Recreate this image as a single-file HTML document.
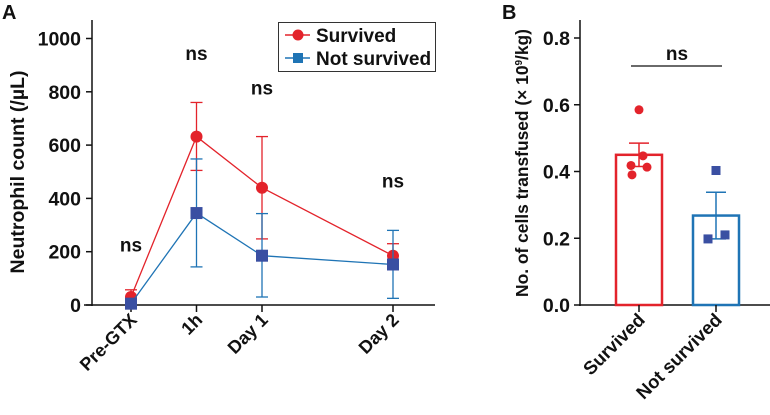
<!DOCTYPE html>
<html><head><meta charset="utf-8"><style>
body{margin:0;background:#fff}
svg text{font-family:"Liberation Sans",Arial,sans-serif;font-weight:bold;fill:#111}
</style></head><body>
<svg id="c" width="770" height="410" viewBox="0 0 770 410" xmlns="http://www.w3.org/2000/svg"></svg>
<script>
// Panel A data
const timepoints=["Pre-GTX","1h","Day 1","Day 2"];
const timeDays=[0,1,2,4];
const survMean=[30,632,440,185];
const survHi=[57,760,632,230];
const survLo=[5,505,248,140];
const notMean=[5,345,185,152];
const notHi=[20,548,343,280];
const notLo=[0,143,30,25];
const aTicks=[0,200,400,600,800,1000];
const aSig=["ns","ns","ns","ns"];
const aSigY=[200,920,790,440];
// Panel B data
const groups=["Survived","Not survived"];
const groupMean=[0.45,0.268];
const groupSem=[0.035,0.07];
const survPts=[0.585,0.447,0.418,0.413,0.39];
const notPts=[0.403,0.21,0.198];
const bTicks=[0,0.2,0.4,0.6,0.8];

const svg=document.getElementById('c');
const NS="http://www.w3.org/2000/svg";
function mk(t,a,p){const e=document.createElementNS(NS,t);for(const k in a)e.setAttribute(k,a[k]);(p||svg).appendChild(e);return e;}
const RED="#e3232b",BLUE="#1f74b5",SQ="#3a4fa2";

const ay=v=>305-v*0.2665;
const ax=d=>131+d*65.5;
let t=mk('text',{x:2,y:19,'font-size':20});t.textContent="A";

let l=mk('line',{x1:92,y1:20,x2:92,y2:306,stroke:'#111','stroke-width':1.5});

l=mk('line',{x1:84,y1:305,x2:435,y2:305,stroke:'#111','stroke-width':1.5});

aTicks.forEach(v=>{
  mk('line',{x1:86,y1:ay(v),x2:92,y2:ay(v),stroke:'#111','stroke-width':1.5});
  const tx=mk('text',{x:81,y:ay(v)+7,'text-anchor':'end','font-size':19.5});tx.textContent=v;
  
});
t=mk('text',{transform:'translate(24,172) rotate(-90)','text-anchor':'middle','font-size':19.5});t.textContent="Neutrophil count (/µL)";

timepoints.forEach((n,i)=>{
  const x=ax(timeDays[i]);
  mk('line',{x1:x,y1:305,x2:x,y2:312,stroke:'#111','stroke-width':1.5});
  const tx=mk('text',{transform:`translate(${x+7},${321}) rotate(-45)`,'text-anchor':'end','font-size':18});tx.textContent=n;
  
  const s=mk('text',{x:x,y:ay(aSigY[i]),'text-anchor':'middle','font-size':19});s.textContent=aSig[i];
  
});
function series(mean,hi,lo,col,mcol,sq,name){
  const g=mk('g',{});
  mean.forEach((m,i)=>{const x=ax(timeDays[i]);
    mk('line',{x1:x,y1:ay(hi[i]),x2:x,y2:ay(lo[i]),stroke:col,'stroke-width':1.3},g);
    mk('line',{x1:x-6,y1:ay(hi[i]),x2:x+6,y2:ay(hi[i]),stroke:col,'stroke-width':1.3},g);
    mk('line',{x1:x-6,y1:ay(lo[i]),x2:x+6,y2:ay(lo[i]),stroke:col,'stroke-width':1.3},g);});
  mk('polyline',{points:mean.map((m,i)=>ax(timeDays[i])+','+ay(m)).join(' '),fill:'none',stroke:col,'stroke-width':1.3},g);
  mean.forEach((m,i)=>{const x=ax(timeDays[i]),y=ay(m);
    const p=sq?mk('rect',{x:x-6,y:y-6,width:12,height:12,fill:mcol},g):mk('circle',{cx:x,cy:y,r:6,fill:mcol},g);
    });
}
series(survMean,survHi,survLo,RED,RED,false,'survived-series');
series(notMean,notHi,notLo,BLUE,SQ,true,'not-survived-series');
const lg=mk('g',{});
mk('rect',{x:278.5,y:22.5,width:157,height:49,fill:'#fff',stroke:'#333','stroke-width':1},lg);
mk('line',{x1:285,y1:35,x2:310,y2:35,stroke:RED,'stroke-width':1.5},lg);mk('circle',{cx:298,cy:35,r:5.5,fill:RED},lg);
mk('line',{x1:285,y1:58,x2:310,y2:58,stroke:BLUE,'stroke-width':1.5},lg);mk('rect',{x:293,y:53,width:10,height:10,fill:BLUE},lg);
t=mk('text',{x:316,y:42,'font-size':19},lg);t.textContent="Survived";

t=mk('text',{x:316,y:65,'font-size':19},lg);t.textContent="Not survived";


// Panel B
const by=v=>305-v*333.75;
const bx=[639,716];
t=mk('text',{x:502,y:19,'font-size':20});t.textContent="B";

l=mk('line',{x1:580,y1:20,x2:580,y2:306,stroke:'#111','stroke-width':1.5});

l=mk('line',{x1:579,y1:305,x2:770,y2:305,stroke:'#111','stroke-width':1.5});

bTicks.forEach(v=>{
  mk('line',{x1:574,y1:by(v),x2:580,y2:by(v),stroke:'#111','stroke-width':1.5});
  const tx=mk('text',{x:570,y:by(v)+7,'text-anchor':'end','font-size':19.5});tx.textContent=v.toFixed(1);
  
});
t=mk('text',{transform:'translate(528,163) rotate(-90)','text-anchor':'middle','font-size':17.4});
t.innerHTML='No. of cells transfused (× 10<tspan font-size="10" dy="-6">9</tspan><tspan dy="6">/kg)</tspan>';

const cols=[RED,BLUE];
groups.forEach((g,i)=>{
  const x=bx[i];
  const b=mk('rect',{x:x-23,y:by(groupMean[i]),width:46,height:305-by(groupMean[i]),fill:'none',stroke:cols[i],'stroke-width':2.5});
  
  const top=by(groupMean[i]+groupSem[i]),bot=by(groupMean[i]-groupSem[i]);
  mk('line',{x1:x,y1:top,x2:x,y2:bot,stroke:cols[i],'stroke-width':1.5});
  mk('line',{x1:x-10,y1:top,x2:x+10,y2:top,stroke:cols[i],'stroke-width':1.5});
  mk('line',{x1:x-10,y1:bot,x2:x+10,y2:bot,stroke:cols[i],'stroke-width':1.5});
  mk('line',{x1:x,y1:305,x2:x,y2:312,stroke:'#111','stroke-width':1.5});
  const tx=mk('text',{transform:`translate(${x+7},${321}) rotate(-45)`,'text-anchor':'end','font-size':18.5});tx.textContent=g;
  
});
const sOff=[0,4,-8,8,-7];
survPts.forEach((v,i)=>{const c=mk('circle',{cx:bx[0]+sOff[i],cy:by(v),r:4.5,fill:RED});
  });
const nOff=[0,9,-8];
notPts.forEach((v,i)=>{const r=mk('rect',{x:bx[1]+nOff[i]-4.5,y:by(v)-4.5,width:9,height:9,fill:SQ});
  });
l=mk('line',{x1:631,y1:66,x2:722,y2:66,stroke:'#111','stroke-width':1.2});

t=mk('text',{x:677,y:60,'text-anchor':'middle','font-size':19});t.textContent="ns";

</script>
</body></html>
